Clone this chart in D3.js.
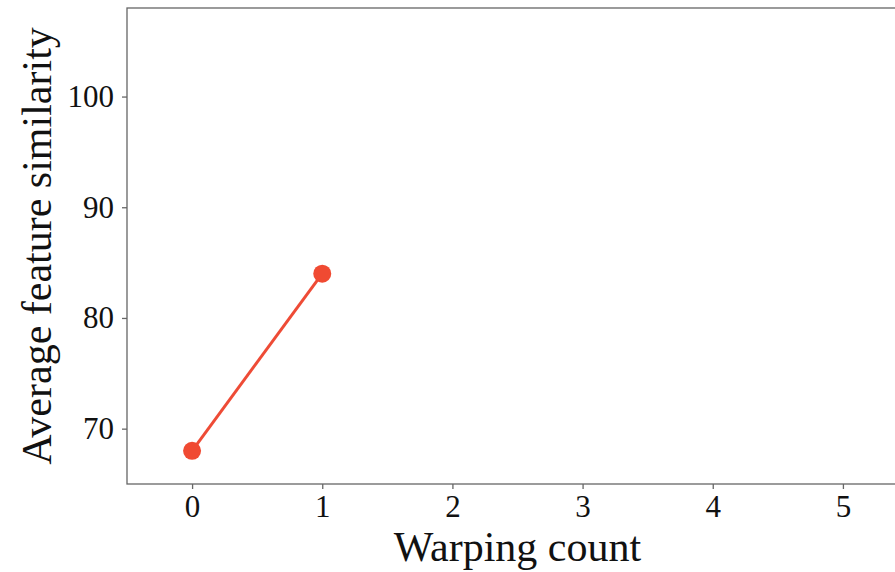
<!DOCTYPE html>
<html>
<head>
<meta charset="utf-8">
<script src="https://cdn.jsdelivr.net/npm/d3@7"></script>
<style>
  body { margin: 0; background: #fff; }
  svg { display: block; }
  .axis text { font-family: "Liberation Serif", "Times New Roman", serif; font-size: 31px; fill: #111; }
  .axis path, .axis line { stroke: #666; stroke-width: 1.3; }
</style>
</head>
<body>
<script>
var width = 895, height = 572;
var margin = { top: 8, left: 127, bottom: 88 };

// data
var warpCount = [0, 1];
var similarity = [68, 84];
var xTicks = [0, 1, 2, 3, 4, 5];
var yTicks = [70, 80, 90, 100];

var svg = d3.select("body").append("svg")
    .attr("width", width)
    .attr("height", height);

// plot runs past the right edge of the picture (cropped)
var x = d3.scaleLinear().domain([-0.5, 5.5]).range([margin.left, 908]);
var y = d3.scaleLinear().domain([65, 108]).range([height - margin.bottom, margin.top]);

var g = svg.append("g");

// frame (top + left + bottom; right side is off canvas)
g.append("rect")
    .attr("x", x(-0.5))
    .attr("y", y(108))
    .attr("width", x(5.5) - x(-0.5))
    .attr("height", y(65) - y(108))
    .attr("fill", "none")
    .attr("stroke", "#666")
    .attr("stroke-width", 1.3);

g.append("g")
    .attr("class", "axis")
    .attr("transform", "translate(0," + y(65) + ")")
    .call(d3.axisBottom(x).tickValues(xTicks).tickFormat(d3.format("d")).tickSize(5).tickPadding(6))
    .call(function(a){ a.select(".domain").remove(); });

g.append("g")
    .attr("class", "axis")
    .attr("transform", "translate(" + x(-0.5) + ",0)")
    .call(d3.axisLeft(y).tickValues(yTicks).tickFormat(d3.format("d")).tickSize(5).tickPadding(8))
    .call(function(a){ a.select(".domain").remove(); });

var pts = warpCount.map(function(d, i){ return [d, similarity[i]]; });

g.append("path")
    .datum(pts)
    .attr("fill", "none")
    .attr("stroke", "#ee4b36")
    .attr("stroke-width", 3)
    .attr("d", d3.line().x(function(d){ return x(d[0]); }).y(function(d){ return y(d[1]); }));

g.selectAll("circle")
    .data(pts)
    .enter().append("circle")
    .attr("cx", function(d){ return x(d[0]); })
    .attr("cy", function(d){ return y(d[1]); })
    .attr("r", 9)
    .attr("fill", "#f04a32");

svg.append("text")
    .attr("x", (x(-0.5) + x(5.5)) / 2)
    .attr("y", 561)
    .attr("text-anchor", "middle")
    .style("font-family", "'Liberation Serif', 'Times New Roman', serif")
    .style("font-size", "42px")
    .attr("fill", "#111")
    .text("Warping count");

svg.append("text")
    .attr("transform", "translate(51," + ((y(65) + y(108)) / 2) + ") rotate(-90)")
    .attr("text-anchor", "middle")
    .style("font-family", "'Liberation Serif', 'Times New Roman', serif")
    .style("font-size", "42px")
    .attr("fill", "#111")
    .text("Average feature similarity");
</script>
</body>
</html>
